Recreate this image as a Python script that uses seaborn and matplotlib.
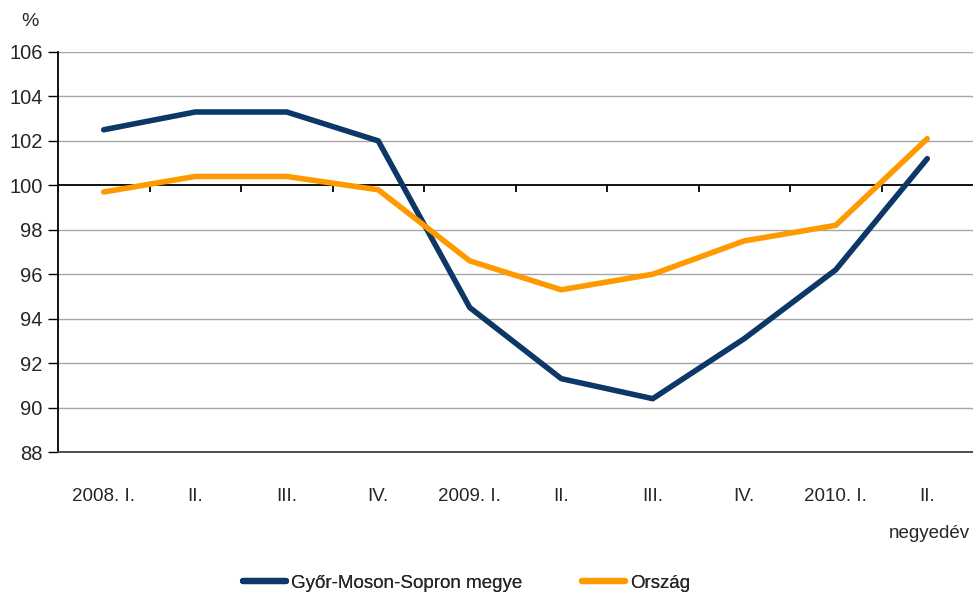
import matplotlib
matplotlib.use("Agg")
import matplotlib.pyplot as plt
import matplotlib.font_manager as fm
from matplotlib.lines import Line2D
import seaborn as sns
import pandas as pd
import numpy as np

categories = ["2008. I.", "II.", "III.", "IV.", "2009. I.", "II.", "III.", "IV.", "2010. I.", "II."]
gyor = [102.5, 103.3, 103.3, 102.0, 94.5, 91.3, 90.4, 93.1, 96.2, 101.2]
orszag = [99.7, 100.4, 100.4, 99.8, 96.6, 95.3, 96.0, 97.5, 98.2, 102.1]
series_names = ["Győr-Moson-Sopron megye", "Ország"]
colors = ["#0C3766", "#FF9900"]
yticks = [88, 90, 92, 94, 96, 98, 100, 102, 104, 106]

sns.set_theme(style="white")
names = {f.name for f in fm.fontManager.ttflist}
fam = "Liberation Sans Narrow" if "Liberation Sans Narrow" in names else "Liberation Sans"
plt.rcParams["font.family"] = [fam, "DejaVu Sans"]

df = pd.DataFrame({
    "x": list(range(len(categories))) * 2,
    "value": gyor + orszag,
    "series": [series_names[0]] * len(categories) + [series_names[1]] * len(categories),
})

fig = plt.figure(figsize=(9.73, 5.96), dpi=100)
ax = fig.add_axes([58 / 973, (596 - 452) / 596, (973 - 58) / 973, 400 / 596])

for yv in yticks:
    if yv != 100:
        ax.axhline(yv, color="#A6A6A6", lw=1.0, zorder=0)

sns.lineplot(data=df, x="x", y="value", hue="series", palette=colors,
             linewidth=4, ax=ax, legend=False, zorder=3)
for line in ax.lines[-2:]:
    line.set_solid_capstyle("round")
    line.set_solid_joinstyle("round")

ax.axhline(100, color="black", lw=1.3, zorder=2)
bounds = np.arange(-0.5, len(categories) - 0.5, 1.0)
ax.vlines(bounds, 99.68, 100, color="black", lw=1.3, zorder=2)

ax.set_xlim(-0.5, len(categories) - 0.5)
ax.set_ylim(88, 106)
ax.set_yticks(yticks)
ax.set_yticklabels([str(v) for v in yticks], fontsize=14.5)
ax.set_xticks(range(len(categories)))
ax.set_xticklabels(categories, fontsize=13.5)
ax.tick_params(axis="x", length=0, pad=26)
ax.tick_params(axis="y", length=7, width=1, color="black", direction="out", pad=4, left=True)
ax.set_xlabel("")
ax.set_ylabel("")

for s in ["top", "right"]:
    ax.spines[s].set_visible(False)
ax.spines["left"].set_color("black")
ax.spines["left"].set_linewidth(1.3)
ax.spines["bottom"].set_color("#404040")
ax.spines["bottom"].set_linewidth(1.3)

fig.text(30 / 973, 1 - 22 / 596, "%", fontsize=14, ha="center", va="center")
fig.text(970 / 973, 1 - 533 / 596, "negyedév", fontsize=13.5, ha="right", va="center")

for name, c, xs in zip(series_names, colors, [243, 582]):
    h = [Line2D([0], [0], color=c, lw=4.5, solid_capstyle="round")]
    leg = fig.legend(h, [name], loc="center left", bbox_to_anchor=(xs / 973, 1 - 583 / 596),
                     frameon=False, fontsize=13.5, handlelength=2.3, handletextpad=0.25,
                     borderpad=0, borderaxespad=0)
    fig.add_artist(leg)

fig.savefig("out.png", dpi=100)
